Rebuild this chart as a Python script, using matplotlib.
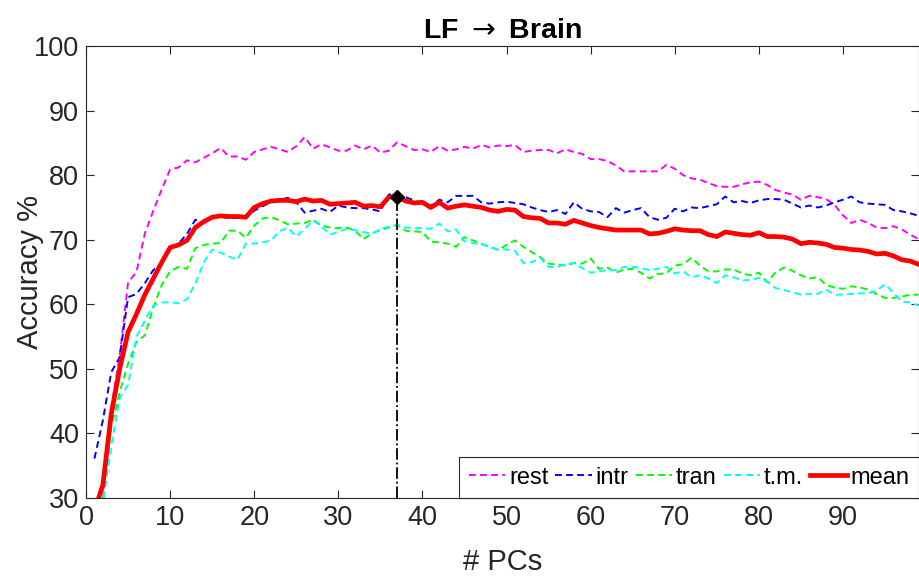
import numpy as np
import matplotlib
matplotlib.use('Agg')
import matplotlib.pyplot as plt

plt.rcParams['font.family'] = ['Liberation Sans', 'DejaVu Sans']
plt.rcParams['mathtext.fontset'] = 'dejavusans'

# number of PCs
pcs = np.arange(1, 100)

rest = [25, 29, 44, 52, 63.4, 65, 71, 74.5, 77.8, 80.9,
        81.2, 82.3, 82, 82.7, 83.4, 84.2, 82.9, 82.9, 82.4, 83.6,
        84, 84.4, 84, 83.6, 84.5, 85.9, 84.1, 84.8, 84.3, 83.8,
        83.8, 84.6, 84, 84.6, 83.5, 83.8, 85.1, 84.5, 83.9, 84,
        83.6, 84.5, 83.8, 84, 84.4, 84.1, 84.7, 84.3, 84.6, 84.5,
        84.7, 83.6, 83.8, 83.9, 83.9, 83.4, 84, 83.6, 83.3, 82.5,
        82.5, 82.2, 81.5, 80.6, 80.6, 80.6, 80.6, 80.6, 81.6, 81,
        80, 79.5, 79.3, 78.8, 78.3, 78.2, 78.2, 78.6, 78.9, 79,
        78.5, 77.7, 77.3, 77, 76.2, 76.8, 76.6, 76.3, 75.4, 73.8,
        72.6, 73.1, 72.6, 71.9, 71.8, 72.1, 71.6, 70.8, 70.1]

intr = [36.1, 42, 49.5, 51.8, 61.1, 61.6, 63.3, 65.3, 66.4, 68.7,
        69.4, 70.9, 73.1, 72.6, 73.5, 73.6, 73.3, 73.4, 73.5, 74.5,
        75.2, 75.8, 76.2, 76.5, 75.8, 74.2, 74.5, 74.8, 74.3, 75.3,
        75.0, 74.9, 74.9, 74.7, 74.4, 77, 77.1, 76.6, 76.1, 75.6,
        75.3, 76.2, 75.8, 76.8, 76.8, 76.8, 75.8, 75.6, 75.8, 75.9,
        75.7, 75.5, 75.0, 74.6, 74.3, 74.6, 74.0, 75.8, 74.8, 74.4,
        74.3, 73.5, 74.9, 74.2, 74.6, 74.9, 73.5, 73.1, 73.4, 74.8,
        74.4, 75, 74.9, 75.2, 75.5, 76.7, 75.8, 76.0, 75.7, 76.1,
        76.3, 76.3, 76.2, 75.6, 75.0, 75.3, 75.0, 75.3, 75.8, 76.2,
        76.7, 75.8, 75.6, 75.5, 75.4, 74.6, 74.4, 74.1, 73.7]

tran = [25, 29.5, 41, 46.4, 50.8, 54.2, 55.2, 59.5, 63, 65.1,
        65.8, 65.5, 68.7, 69.2, 69.4, 69.5, 71.4, 71.4, 70.3, 72.2,
        73.3, 73.5, 73.0, 72.4, 72.5, 72.6, 73.1, 72.2, 71.9, 71.8,
        71.9, 71.4, 70.1, 71.0, 71.5, 71.9, 72.3, 71.4, 71.3, 71.2,
        69.7, 69.6, 69.4, 68.9, 70.4, 69.9, 69.4, 68.9, 68.4, 69.2,
        69.9, 68.9, 68.1, 67.3, 66.3, 66.2, 66.0, 66.4, 66.3, 67.1,
        65.5, 65.7, 64.9, 65.4, 65.5, 64.9, 64.0, 64.7, 64.8, 66.0,
        66.2, 67.2, 66.0, 65.1, 65.1, 65.4, 65.4, 64.8, 64.5, 64.9,
        63.4, 65.0, 65.7, 65.2, 64.5, 64.0, 64.2, 63.0, 62.6, 62.4,
        62.8, 62.6, 62.3, 61.6, 61.0, 61.0, 61.2, 61.5, 61.5]

tm = [25, 29, 38, 45.5, 47.5, 55, 57.5, 59.8, 60.3, 60.3,
      60.2, 60.8, 63.2, 66.5, 68.5, 68, 67.4, 66.9, 69.4, 69.4,
      69.6, 69.9, 71.3, 71.9, 70.5, 71.7, 73, 72.1, 70.8, 71.2,
      71.7, 71.5, 71.2, 70.9, 71.7, 72.0, 72.3, 71.9, 71.8, 71.8,
      71.7, 72.5, 71.3, 71.6, 69.8, 69.5, 69.3, 68.9, 68.5, 68.5,
      68.3, 66.4, 66.5, 67.2, 65.8, 65.8, 66.2, 66.4, 65.6, 64.9,
      65.1, 65.3, 65.3, 65.8, 65.8, 65.6, 65.3, 65.5, 65.8, 64.8,
      65.1, 64.2, 64.5, 64.0, 63.3, 64.5, 64.2, 63.7, 63.8, 64.1,
      63.5, 62.5, 62.2, 61.9, 61.5, 61.6, 61.6, 62.3, 61.5, 61.5,
      61.6, 61.7, 61.7, 62.1, 63.1, 61.8, 60.4, 60.3, 59.8]

mean = [28, 32, 43, 50, 55.7, 58.5, 61.5, 64, 66.5, 68.8,
        69.2, 69.9, 71.9, 72.8, 73.5, 73.7, 73.6, 73.6, 73.5, 75,
        75.6, 76.0, 76.1, 76.1, 75.9, 76.3, 76.0, 76.1, 75.5, 75.6,
        75.7, 75.8, 75.2, 75.3, 75.1, 76.6, 76.7, 76.0, 75.7, 75.8,
        75.0, 75.8, 74.9, 75.2, 75.4, 75.2, 75.0, 74.6, 74.4, 74.7,
        74.6, 73.6, 73.4, 73.3, 72.6, 72.6, 72.4, 73.0, 72.6, 72.2,
        71.9, 71.7, 71.5, 71.5, 71.5, 71.5, 70.9, 71.0, 71.3, 71.7,
        71.5, 71.4, 71.4, 70.8, 70.5, 71.2, 71.0, 70.8, 70.7, 71.1,
        70.5, 70.5, 70.4, 70.1, 69.4, 69.6, 69.5, 69.3, 68.8, 68.7,
        68.5, 68.4, 68.2, 67.8, 67.9, 67.5, 66.9, 66.7, 66.2]

best_pc = 37
best_acc = 76.7

fig = plt.figure(figsize=(9.19, 5.76), dpi=100)
ax = fig.add_axes([0.0936, 0.1354, 0.906, 0.7846])

dash = (3.5, 2.2)
ax.plot(pcs, rest, color=(1, 0, 1), lw=1.4, dashes=dash, label='rest')
ax.plot(pcs, intr, color=(0, 0, 1), lw=1.4, dashes=dash, label='intr')
ax.plot(pcs, tran, color=(0, 1, 0), lw=1.4, dashes=dash, label='tran')
ax.plot(pcs, tm, color=(0, 1, 1), lw=1.4, dashes=dash, label='t.m.')
ax.plot(pcs, mean, color=(1, 0, 0), lw=3.4, label='mean')

# best number of PCs
ax.plot([best_pc, best_pc], [30, best_acc], color='k', lw=1.3, ls='-.')
ax.plot(best_pc, best_acc, marker='D', color='k', ms=7)

ax.set_xlim(0, 99)
ax.set_ylim(30, 100)
ax.set_xticks(np.arange(0, 100, 10))
ax.set_yticks(np.arange(30, 101, 10))
ax.tick_params(direction='in', top=True, right=True, labelsize=19.5,
               colors=(0.15, 0.15, 0.15), length=6, width=0.8, pad=5)
for s in ax.spines.values():
    s.set_color((0.15, 0.15, 0.15))
    s.set_linewidth(0.8)

ax.set_title('LF $\\rightarrow$ Brain', fontsize=20.5, fontweight='bold', pad=6)
ax.set_xlabel('# PCs', fontsize=21, color=(0.15, 0.15, 0.15), labelpad=12)
ax.set_ylabel('Accuracy %', fontsize=21, color=(0.15, 0.15, 0.15))
ax.yaxis.set_label_coords(-0.05, 0.5)

leg = ax.legend(loc='lower right', bbox_to_anchor=(1.0, 0.0), ncol=5,
                fontsize=17, frameon=True, fancybox=False, borderaxespad=0,
                handlelength=1.55, handletextpad=0.15, columnspacing=0.3,
                borderpad=0.4)
leg.get_frame().set_edgecolor((0.15, 0.15, 0.15))
leg.get_frame().set_linewidth(0.8)
leg.get_frame().set_alpha(1)

fig.savefig('out.png', dpi=100)
